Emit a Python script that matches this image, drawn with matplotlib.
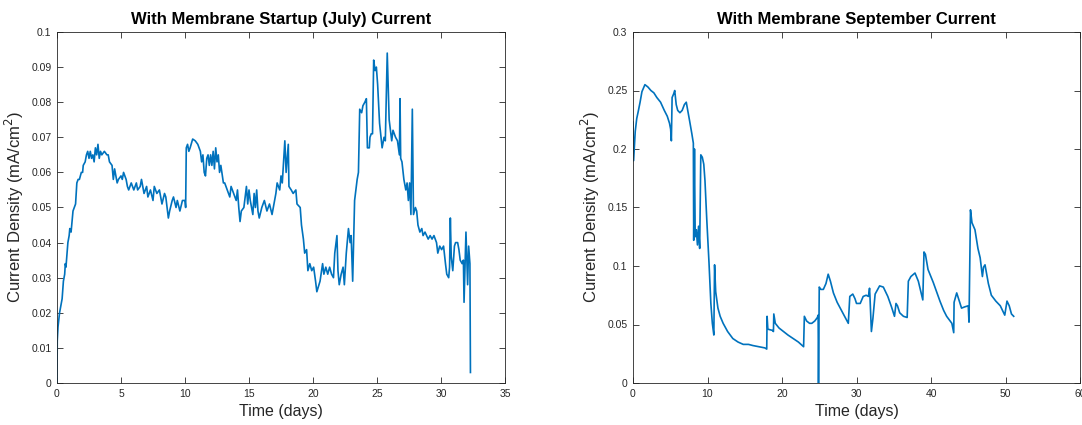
import matplotlib.pyplot as plt

# July startup run: (day, current density mA/cm^2)
july_points = [
    (0, 0), (0.02, 0.012), (0.08, 0.016), (0.2, 0.020), (0.3, 0.022), (0.4, 0.024),
    (0.5, 0.029), (0.6, 0.031), (0.65, 0.034), (0.7, 0.033), (0.85, 0.040), (0.95, 0.042),
    (1.0, 0.044), (1.1, 0.043), (1.25, 0.049), (1.35, 0.050), (1.45, 0.051), (1.55, 0.057),
    (1.65, 0.058), (1.75, 0.058), (1.9, 0.060), (2.0, 0.060), (2.05, 0.062), (2.2, 0.063),
    (2.3, 0.065), (2.4, 0.066), (2.5, 0.064), (2.6, 0.066), (2.7, 0.064), (2.8, 0.065),
    (2.9, 0.063), (3.0, 0.067), (3.1, 0.065), (3.2, 0.068), (3.3, 0.064), (3.4, 0.066),
    (3.5, 0.065), (3.7, 0.066), (3.9, 0.065), (4.0, 0.065), (4.1, 0.063), (4.3, 0.062),
    (4.4, 0.058), (4.5, 0.061), (4.7, 0.057), (4.8, 0.058), (5.0, 0.059), (5.1, 0.058),
    (5.2, 0.060), (5.4, 0.058), (5.5, 0.056), (5.6, 0.055), (5.8, 0.057), (6.0, 0.055),
    (6.2, 0.057), (6.3, 0.055), (6.5, 0.056), (6.6, 0.058), (6.8, 0.054), (7.0, 0.056),
    (7.1, 0.053), (7.3, 0.055), (7.5, 0.052), (7.6, 0.056), (7.8, 0.054), (8.0, 0.055),
    (8.2, 0.051), (8.4, 0.054), (8.5, 0.053), (8.7, 0.047), (8.8, 0.049), (9.0, 0.052),
    (9.1, 0.053), (9.3, 0.050), (9.4, 0.052), (9.6, 0.049), (9.8, 0.052), (10.0, 0.052),
    (10.05, 0.050), (10.1, 0.067), (10.2, 0.068), (10.3, 0.066), (10.4, 0.067), (10.6, 0.0695),
    (10.8, 0.069), (11.0, 0.068), (11.2, 0.066), (11.3, 0.063), (11.4, 0.065), (11.5, 0.060),
    (11.6, 0.059), (11.7, 0.064), (11.8, 0.065), (11.9, 0.062), (12.0, 0.065), (12.1, 0.062),
    (12.2, 0.066), (12.3, 0.061), (12.4, 0.067), (12.5, 0.063), (12.6, 0.065), (12.7, 0.060),
    (12.8, 0.062), (13.0, 0.057), (13.1, 0.057), (13.3, 0.055), (13.5, 0.053), (13.6, 0.056),
    (13.8, 0.054), (14.0, 0.052), (14.1, 0.055), (14.2, 0.050), (14.3, 0.046), (14.4, 0.049),
    (14.6, 0.050), (14.8, 0.056), (14.9, 0.051), (15.0, 0.055), (15.1, 0.052), (15.3, 0.048),
    (15.4, 0.054), (15.5, 0.050), (15.6, 0.055), (15.7, 0.049), (15.8, 0.047), (16.0, 0.050),
    (16.2, 0.052), (16.4, 0.049), (16.6, 0.051), (16.8, 0.048), (16.9, 0.050), (17.1, 0.054),
    (17.2, 0.057), (17.4, 0.055), (17.5, 0.059), (17.6, 0.057), (17.8, 0.069), (17.9, 0.060),
    (18.07, 0.068), (18.12, 0.056), (18.3, 0.055), (18.45, 0.054), (18.66, 0.055),
    (18.75, 0.051), (19.0, 0.050), (19.1, 0.045), (19.25, 0.041), (19.35, 0.037),
    (19.5, 0.038), (19.6, 0.032), (19.75, 0.034), (19.9, 0.032), (20.05, 0.033),
    (20.2, 0.029), (20.3, 0.026), (20.55, 0.029), (20.75, 0.034), (20.85, 0.031),
    (21.0, 0.033), (21.15, 0.031), (21.3, 0.033), (21.45, 0.031), (21.6, 0.030),
    (21.7, 0.037), (21.87, 0.042), (21.95, 0.032), (22.05, 0.028), (22.2, 0.031),
    (22.35, 0.033), (22.45, 0.028), (22.6, 0.037), (22.77, 0.044), (22.9, 0.040),
    (22.98, 0.042), (23.1, 0.029), (23.17, 0.040), (23.25, 0.052), (23.45, 0.058),
    (23.55, 0.060), (23.65, 0.078), (23.8, 0.077), (23.9, 0.079), (24.05, 0.080),
    (24.17, 0.081), (24.25, 0.067), (24.4, 0.067), (24.45, 0.070), (24.55, 0.071),
    (24.65, 0.071), (24.74, 0.092), (24.85, 0.089), (24.95, 0.090), (25.05, 0.085),
    (25.2, 0.074), (25.4, 0.067), (25.55, 0.070), (25.65, 0.069), (25.8, 0.094),
    (25.95, 0.075), (26.15, 0.069), (26.25, 0.072), (26.45, 0.070), (26.6, 0.069),
    (26.75, 0.065), (26.8, 0.081), (26.85, 0.064), (26.95, 0.063), (27.1, 0.058),
    (27.25, 0.055), (27.35, 0.057), (27.45, 0.052), (27.55, 0.057), (27.65, 0.048),
    (27.76, 0.078), (27.85, 0.048), (28.0, 0.050), (28.1, 0.049), (28.2, 0.045),
    (28.35, 0.043), (28.5, 0.044), (28.6, 0.042), (28.75, 0.043), (29.0, 0.041),
    (29.15, 0.042), (29.3, 0.041), (29.45, 0.042), (29.65, 0.040), (29.75, 0.037),
    (29.9, 0.039), (30.05, 0.038), (30.2, 0.039), (30.35, 0.034), (30.45, 0.031),
    (30.6, 0.030), (30.67, 0.033), (30.73, 0.047), (30.8, 0.036), (30.92, 0.032),
    (31.05, 0.039), (31.14, 0.040), (31.3, 0.040), (31.4, 0.038), (31.5, 0.035),
    (31.65, 0.034), (31.75, 0.035), (31.8, 0.023), (31.95, 0.043), (32.08, 0.028),
    (32.16, 0.039), (32.26, 0.034), (32.3, 0.003),
]

# September run: (day, current density mA/cm^2)
sept_points = [
    (0, 0.223), (0.08, 0.19), (0.3, 0.215), (0.5, 0.226), (0.7, 0.232), (0.95, 0.240),
    (1.2, 0.249), (1.6, 0.255), (2.0, 0.253), (2.4, 0.250), (2.8, 0.248), (3.2, 0.244),
    (3.7, 0.240), (4.2, 0.233), (4.6, 0.228), (4.9, 0.222), (5.05, 0.217), (5.15, 0.207),
    (5.25, 0.244), (5.45, 0.247), (5.6, 0.250), (5.8, 0.238), (6.0, 0.233), (6.3, 0.231),
    (6.6, 0.233), (6.9, 0.238), (7.15, 0.240), (7.35, 0.233), (7.6, 0.224), (7.9, 0.213),
    (8.1, 0.205), (8.15, 0.122), (8.25, 0.200), (8.35, 0.125), (8.5, 0.131), (8.65, 0.118),
    (8.8, 0.134), (8.95, 0.115), (9.1, 0.195), (9.3, 0.193), (9.5, 0.187), (9.66, 0.173),
    (9.9, 0.140), (10.2, 0.103), (10.45, 0.068), (10.65, 0.051), (10.85, 0.041),
    (10.95, 0.101), (11.1, 0.078), (11.4, 0.064), (11.7, 0.057), (12.1, 0.051),
    (12.7, 0.044), (13.4, 0.038), (14.1, 0.035), (14.8, 0.033), (15.5, 0.033), (16.1, 0.032),
    (16.9, 0.031), (17.7, 0.030), (17.95, 0.029), (18.0, 0.057), (18.1, 0.046), (18.7, 0.045),
    (18.85, 0.044), (18.9, 0.059), (19.1, 0.051), (19.6, 0.047), (20.2, 0.044), (20.8, 0.041),
    (21.5, 0.038), (22.2, 0.035), (22.9, 0.031), (23.0, 0.057), (23.3, 0.053), (23.7, 0.051),
    (24.0, 0.051), (24.4, 0.053), (24.75, 0.056), (24.85, 0.058), (24.9, 0.0), (25.0, 0.082),
    (25.2, 0.080), (25.55, 0.080), (25.9, 0.085), (26.2, 0.093), (26.5, 0.087), (26.9, 0.077),
    (27.4, 0.069), (27.9, 0.063), (28.4, 0.057), (28.9, 0.051), (29.1, 0.074), (29.5, 0.076),
    (29.8, 0.072), (30.0, 0.068), (30.5, 0.068), (30.9, 0.074), (31.3, 0.075), (31.6, 0.074),
    (31.75, 0.081), (31.8, 0.075), (32.0, 0.044), (32.2, 0.055), (32.5, 0.076), (33.1, 0.083),
    (33.6, 0.082), (34.2, 0.074), (34.7, 0.065), (35.1, 0.057), (35.3, 0.068), (35.5, 0.066),
    (35.8, 0.060), (36.3, 0.057), (36.8, 0.056), (36.96, 0.087), (37.3, 0.091), (37.85, 0.094),
    (38.3, 0.087), (38.6, 0.079), (38.9, 0.071), (39.06, 0.112), (39.25, 0.110),
    (39.6, 0.097), (40.3, 0.086), (40.8, 0.077), (41.2, 0.070), (41.7, 0.062), (42.1, 0.057),
    (42.8, 0.051), (43.05, 0.043), (43.1, 0.069), (43.45, 0.077), (43.8, 0.070), (44.1, 0.064),
    (44.5, 0.065), (45.0, 0.066), (45.1, 0.052), (45.3, 0.148), (45.5, 0.137), (45.9, 0.131),
    (46.3, 0.115), (46.6, 0.107), (46.9, 0.091), (47.05, 0.099), (47.25, 0.101), (47.5, 0.092),
    (47.7, 0.085), (48.1, 0.075), (48.7, 0.070), (49.3, 0.066), (49.9, 0.058), (50.2, 0.070),
    (50.5, 0.066), (50.8, 0.059), (51.1, 0.057),
]

july_t = [p[0] for p in july_points]
july_j = [p[1] for p in july_points]
sept_t = [p[0] for p in sept_points]
sept_j = [p[1] for p in sept_points]

plt.rcParams['font.family'] = ['Liberation Sans', 'DejaVu Sans']
line_color = '#0072BD'
axis_color = '#262626'

fig = plt.figure(figsize=(10.82, 4.25), dpi=100)
ax1 = fig.add_axes([57 / 1082, 42 / 425, 448 / 1082, 351 / 425])
ax2 = fig.add_axes([633 / 1082, 42 / 425, 447 / 1082, 351 / 425])


def style_axes(ax, title, xmax, xstep, ymax, ystep, ylabels):
    ax.set_xlim(0, xmax)
    ax.set_ylim(0, ymax)
    ax.set_xticks([i * xstep for i in range(int(round(xmax / xstep)) + 1)])
    ax.set_yticks([i * ystep for i in range(len(ylabels))])
    ax.set_yticklabels(ylabels)
    ax.tick_params(direction='in', top=True, right=True, length=4, width=0.6,
                   labelsize=7.5, colors=axis_color, pad=4)
    for s in ax.spines.values():
        s.set_color(axis_color)
        s.set_linewidth(0.6)
    ax.set_title(title, fontsize=12, fontweight='bold', pad=6)
    ax.set_xlabel('Time (days)', fontsize=11.5, color=axis_color, labelpad=4)
    ax.set_ylabel('Current Density (mA/cm$^2$)', fontsize=12, color=axis_color, labelpad=4)


ax1.plot(july_t, july_j, color=line_color, linewidth=1.2)
style_axes(ax1, 'With Membrane Startup (July) Current', 35, 5, 0.1, 0.01,
           ['0', '0.01', '0.02', '0.03', '0.04', '0.05', '0.06', '0.07', '0.08', '0.09', '0.1'])

ax2.plot(sept_t, sept_j, color=line_color, linewidth=1.2)
style_axes(ax2, 'With Membrane September Current', 60, 10, 0.3, 0.05,
           ['0', '0.05', '0.1', '0.15', '0.2', '0.25', '0.3'])

fig.savefig('out.png', dpi=100)
